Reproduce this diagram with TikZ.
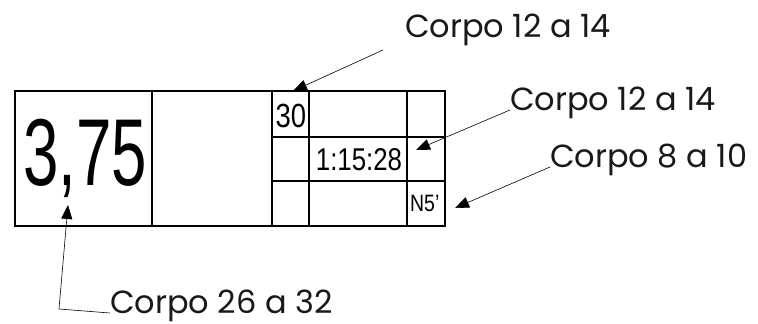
\documentclass[tikz,border=0pt]{standalone}
\usepackage{fontspec}
\usetikzlibrary{arrows.meta, positioning}
\setmainfont{Poppins}
\newfontfamily\bignum[FakeStretch=0.67]{Liberation Sans}
\newfontfamily\cellnum[FakeStretch=0.82]{Liberation Sans}
\tikzset{>={Triangle[length=14pt,width=11pt]},
grid line/.style={line width=1.9pt, line cap=rect},
leader/.style={->, line width=0.6pt},
corpo/.style={inner sep=0pt, anchor=base west, font=\fontsize{32}{32}\selectfont, text=black!90},
}

\begin{document}
\begin{tikzpicture}[x=1pt, y=-1pt]
    \useasboundingbox (0,0) rectangle (758,324);
    % the box and its cells
    \draw[grid line] (15,91) rectangle (445,226);
    \foreach \xx in {152, 272, 309, 407}
        \draw[grid line] (\xx,91) -- (\xx,226);
    \foreach \yy in {137, 181}
        \draw[grid line] (272,\yy) -- (445,\yy);
    % figures in the cells
    \node[inner sep=0pt, anchor=base, font=\bignum\fontsize{95}{95}\selectfont] (val) at (85,185) {3,75};
    \node[inner sep=0pt, anchor=base, font=\cellnum\fontsize{33.5}{33.5}\selectfont] (num) at (291,127) {30};
    \node[inner sep=0pt, anchor=base, font=\cellnum\fontsize{31.5}{31.5}\selectfont] (time) at (359,170) {1:15:28};
    \node[inner sep=0pt, anchor=base west, font=\cellnum\fontsize{23.7}{23.7}\selectfont] (code) at (410,211) {N5’};
    % labels
    \node[corpo] (top) at (405,37) {Corpo 12 a 14};
    \node[corpo] (mid) at (510,110) {Corpo 12 a 14};
    \node[corpo] (low) at (550,167) {Corpo 8 a 10};
    \node[corpo] (bot) at (110,313) {Corpo 26 a 32};
    \coordinate (top start) at (383,50);
    \coordinate (top tip) at (293,91);
    \coordinate (mid tip) at (416,150);
    \coordinate (low tip) at (455,208);
    \coordinate (bot bend) at (59,309);
    \coordinate (bot tip) at (68,205);
    \draw[leader] (top start) -- (top tip);
    \draw[leader] (mid.base west) -- (mid tip);
    \draw[leader] (low.base west) -- (low tip);
    \draw[leader] (bot.base west) -- (bot bend) -- (bot tip);
\end{tikzpicture}
\end{document}
